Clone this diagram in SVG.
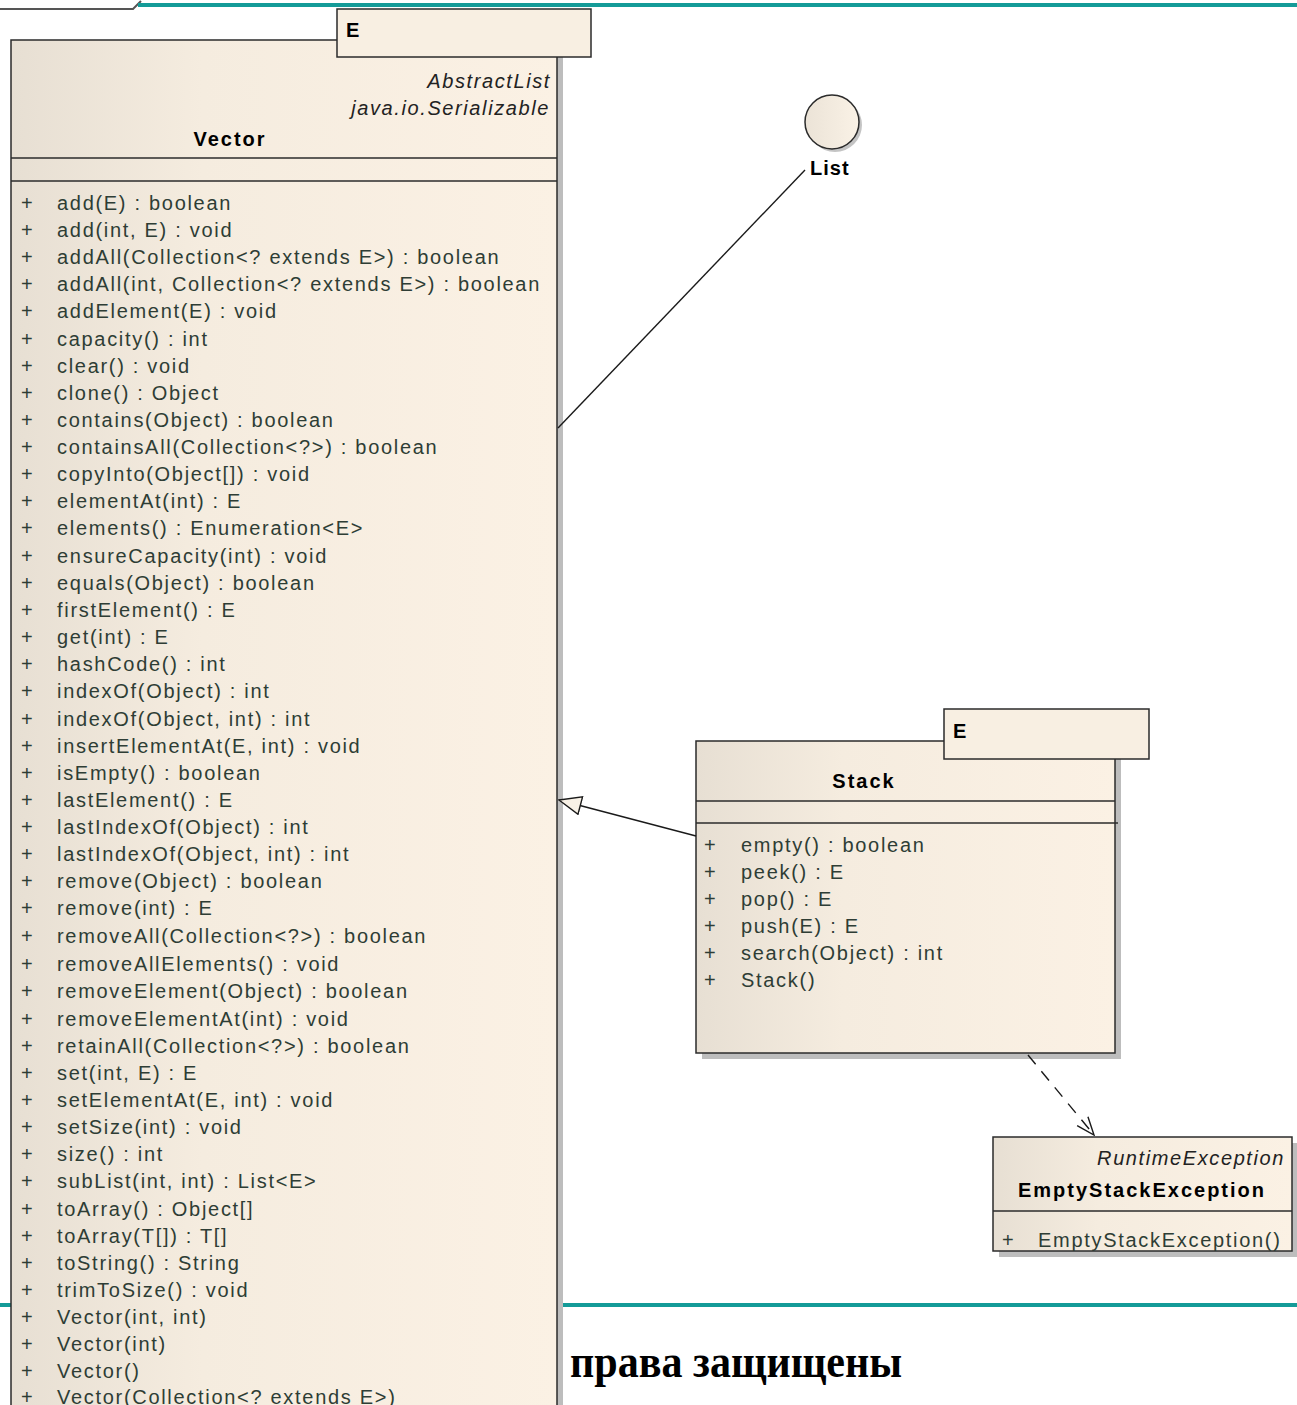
<svg xmlns="http://www.w3.org/2000/svg" width="1297" height="1405" viewBox="0 0 1297 1405">
  <style>
    .box { stroke: #2b2b2b; stroke-width: 1.5; fill: url(#beige); }
    .tpl { stroke: #2b2b2b; stroke-width: 1.5; fill: #f8efe2; }
    .shadow { fill: #bdbdbd; }
    .sep { stroke: #2b2b2b; stroke-width: 1.3; }
    .name { font-family: "Liberation Sans", Arial, sans-serif; font-size: 20px; font-weight: bold; fill: #000; letter-spacing: 2px; }
    .stereo { font-family: "Liberation Sans", Arial, sans-serif; font-size: 20px; font-style: italic; fill: #222; letter-spacing: 1.6px; }
    .op { font-family: "Liberation Sans", Arial, sans-serif; font-size: 20px; fill: #2e3d35; letter-spacing: 1.7px; }
    .vis { font-family: "Liberation Sans", Arial, sans-serif; font-size: 20px; fill: #2e3d35; }
    .edge { stroke: #1a1a1a; stroke-width: 1.4; fill: none; }
    .teal { fill: #149b98; }
    .footer { font-family: "Liberation Serif", "Times New Roman", serif; font-size: 46px; font-weight: bold; fill: #000; }
  </style>
  <defs>
    <linearGradient id="beige" x1="0" y1="0" x2="1" y2="0">
      <stop offset="0" stop-color="#e7dfd3"/>
      <stop offset="0.35" stop-color="#f5ecdf"/>
      <stop offset="1" stop-color="#fbf1e4"/>
    </linearGradient>
    <linearGradient id="ball" x1="0" y1="0" x2="1" y2="0">
      <stop offset="0" stop-color="#ebe3d7"/>
      <stop offset="1" stop-color="#faf2e6"/>
    </linearGradient>
    <!-- hollow triangle for generalization, tip at the path end -->
    <marker id="gen" viewBox="0 0 24 20" refX="23" refY="10" markerWidth="24" markerHeight="20" markerUnits="userSpaceOnUse" orient="auto">
      <path d="M23,10 L1,1 L1,19 Z" fill="#f8f1e6" stroke="#1a1a1a" stroke-width="1.4"/>
    </marker>
    <!-- open arrowhead for dependency -->
    <marker id="dep" viewBox="0 0 20 20" refX="19" refY="10" markerWidth="20" markerHeight="20" markerUnits="userSpaceOnUse" orient="auto">
      <path d="M1,3 L19,10 L1,17" fill="none" stroke="#1a1a1a" stroke-width="1.4"/>
    </marker>
  </defs>

  <rect width="1297" height="1405" fill="#ffffff"/>

  <!-- slide frame lines -->
  <g id="frame">
    <path d="M0,9 L133,9 L141,1" fill="none" stroke="#555" stroke-width="2"/>
    <rect class="teal" x="138" y="3" width="1159" height="4"/>
    <rect class="teal" x="0" y="1303" width="1297" height="4"/>
  </g>

  <!-- Vector class -->
  <g id="vector">
    <rect class="shadow" x="17" y="46" width="546" height="1380"/>
    <rect class="box" x="11" y="40" width="546" height="1380"/>
    <line class="sep" x1="11" y1="158" x2="557" y2="158"/>
    <line class="sep" x1="11" y1="181" x2="557" y2="181"/>
    <rect class="tpl" x="337" y="9" width="254" height="48"/>
    <text class="name" x="346" y="37">E</text>
    <text class="stereo" x="551" y="88" text-anchor="end">AbstractList</text>
    <text class="stereo" x="550" y="115" text-anchor="end">java.io.Serializable</text>
    <text class="name" x="230" y="146" text-anchor="middle">Vector</text>
    <g class="vis">
      <text x="21" y="210">+</text><text x="21" y="237">+</text><text x="21" y="264">+</text><text x="21" y="291">+</text>
      <text x="21" y="318">+</text><text x="21" y="346">+</text><text x="21" y="373">+</text><text x="21" y="400">+</text>
      <text x="21" y="427">+</text><text x="21" y="454">+</text><text x="21" y="481">+</text><text x="21" y="508">+</text>
      <text x="21" y="535">+</text><text x="21" y="563">+</text><text x="21" y="590">+</text><text x="21" y="617">+</text>
      <text x="21" y="644">+</text><text x="21" y="671">+</text><text x="21" y="698">+</text><text x="21" y="726">+</text>
      <text x="21" y="753">+</text><text x="21" y="780">+</text><text x="21" y="807">+</text><text x="21" y="834">+</text>
      <text x="21" y="861">+</text><text x="21" y="888">+</text><text x="21" y="915">+</text><text x="21" y="943">+</text>
      <text x="21" y="971">+</text><text x="21" y="998">+</text><text x="21" y="1026">+</text><text x="21" y="1053">+</text>
      <text x="21" y="1080">+</text><text x="21" y="1107">+</text><text x="21" y="1134">+</text><text x="21" y="1161">+</text>
      <text x="21" y="1188">+</text><text x="21" y="1216">+</text><text x="21" y="1243">+</text><text x="21" y="1270">+</text>
      <text x="21" y="1297">+</text><text x="21" y="1324">+</text><text x="21" y="1351">+</text><text x="21" y="1378">+</text>
      <text x="21" y="1404">+</text>
    </g>
    <g class="op">
      <text x="57" y="210">add(E) : boolean</text>
      <text x="57" y="237">add(int, E) : void</text>
      <text x="57" y="264">addAll(Collection&lt;? extends E&gt;) : boolean</text>
      <text x="57" y="291">addAll(int, Collection&lt;? extends E&gt;) : boolean</text>
      <text x="57" y="318">addElement(E) : void</text>
      <text x="57" y="346">capacity() : int</text>
      <text x="57" y="373">clear() : void</text>
      <text x="57" y="400">clone() : Object</text>
      <text x="57" y="427">contains(Object) : boolean</text>
      <text x="57" y="454">containsAll(Collection&lt;?&gt;) : boolean</text>
      <text x="57" y="481">copyInto(Object[]) : void</text>
      <text x="57" y="508">elementAt(int) : E</text>
      <text x="57" y="535">elements() : Enumeration&lt;E&gt;</text>
      <text x="57" y="563">ensureCapacity(int) : void</text>
      <text x="57" y="590">equals(Object) : boolean</text>
      <text x="57" y="617">firstElement() : E</text>
      <text x="57" y="644">get(int) : E</text>
      <text x="57" y="671">hashCode() : int</text>
      <text x="57" y="698">indexOf(Object) : int</text>
      <text x="57" y="726">indexOf(Object, int) : int</text>
      <text x="57" y="753">insertElementAt(E, int) : void</text>
      <text x="57" y="780">isEmpty() : boolean</text>
      <text x="57" y="807">lastElement() : E</text>
      <text x="57" y="834">lastIndexOf(Object) : int</text>
      <text x="57" y="861">lastIndexOf(Object, int) : int</text>
      <text x="57" y="888">remove(Object) : boolean</text>
      <text x="57" y="915">remove(int) : E</text>
      <text x="57" y="943">removeAll(Collection&lt;?&gt;) : boolean</text>
      <text x="57" y="971">removeAllElements() : void</text>
      <text x="57" y="998">removeElement(Object) : boolean</text>
      <text x="57" y="1026">removeElementAt(int) : void</text>
      <text x="57" y="1053">retainAll(Collection&lt;?&gt;) : boolean</text>
      <text x="57" y="1080">set(int, E) : E</text>
      <text x="57" y="1107">setElementAt(E, int) : void</text>
      <text x="57" y="1134">setSize(int) : void</text>
      <text x="57" y="1161">size() : int</text>
      <text x="57" y="1188">subList(int, int) : List&lt;E&gt;</text>
      <text x="57" y="1216">toArray() : Object[]</text>
      <text x="57" y="1243">toArray(T[]) : T[]</text>
      <text x="57" y="1270">toString() : String</text>
      <text x="57" y="1297">trimToSize() : void</text>
      <text x="57" y="1324">Vector(int, int)</text>
      <text x="57" y="1351">Vector(int)</text>
      <text x="57" y="1378">Vector()</text>
      <text x="57" y="1404">Vector(Collection&lt;? extends E&gt;)</text>
    </g>
  </g>

  <!-- List interface (lollipop) -->
  <g id="list">
    <circle cx="835" cy="125" r="27" fill="#c4c4c4"/>
    <circle cx="832" cy="122" r="27" fill="url(#ball)" stroke="#2b2b2b" stroke-width="1.5"/>
    <text class="name" x="810" y="175" style="letter-spacing:1px">List</text>
  </g>

  <!-- Stack class -->
  <g id="stack">
    <rect class="shadow" x="702" y="747" width="419" height="312"/>
    <rect class="box" x="696" y="741" width="419" height="312"/>
    <line class="sep" x1="696" y1="801" x2="1115" y2="801"/>
    <line class="sep" x1="696" y1="823" x2="1118" y2="823"/>
    <rect class="tpl" x="944" y="709" width="205" height="50"/>
    <text class="name" x="953" y="738">E</text>
    <text class="name" x="864" y="788" text-anchor="middle">Stack</text>
    <g class="vis">
      <text x="704" y="852">+</text><text x="704" y="879">+</text><text x="704" y="906">+</text>
      <text x="704" y="933">+</text><text x="704" y="960">+</text><text x="704" y="987">+</text>
    </g>
    <g class="op">
      <text x="741" y="852">empty() : boolean</text>
      <text x="741" y="879">peek() : E</text>
      <text x="741" y="906">pop() : E</text>
      <text x="741" y="933">push(E) : E</text>
      <text x="741" y="960">search(Object) : int</text>
      <text x="741" y="987">Stack()</text>
    </g>
  </g>

  <!-- EmptyStackException class -->
  <g id="emptystackexception">
    <rect class="shadow" x="999" y="1143" width="299" height="114"/>
    <rect class="box" x="993" y="1137" width="299" height="114"/>
    <line class="sep" x1="993" y1="1211" x2="1292" y2="1211"/>
    <text class="stereo" x="1285" y="1165" text-anchor="end">RuntimeException</text>
    <text class="name" x="1142" y="1197" text-anchor="middle">EmptyStackException</text>
    <text class="vis" x="1002" y="1247">+</text>
    <text class="op" x="1038" y="1247">EmptyStackException()</text>
  </g>

  <!-- connectors -->
  <g id="connectors">
    <line class="edge" x1="558" y1="428" x2="805" y2="170"/>
    <line class="edge" x1="696" y1="836" x2="559" y2="800" marker-end="url(#gen)"/>
    <line class="edge" x1="1028" y1="1055" x2="1094" y2="1135" stroke-dasharray="12 9" marker-end="url(#dep)"/>
  </g>

  <!-- footer text -->
  <text class="footer" x="570" y="1377" textLength="332" lengthAdjust="spacingAndGlyphs">права защищены</text>
</svg>
